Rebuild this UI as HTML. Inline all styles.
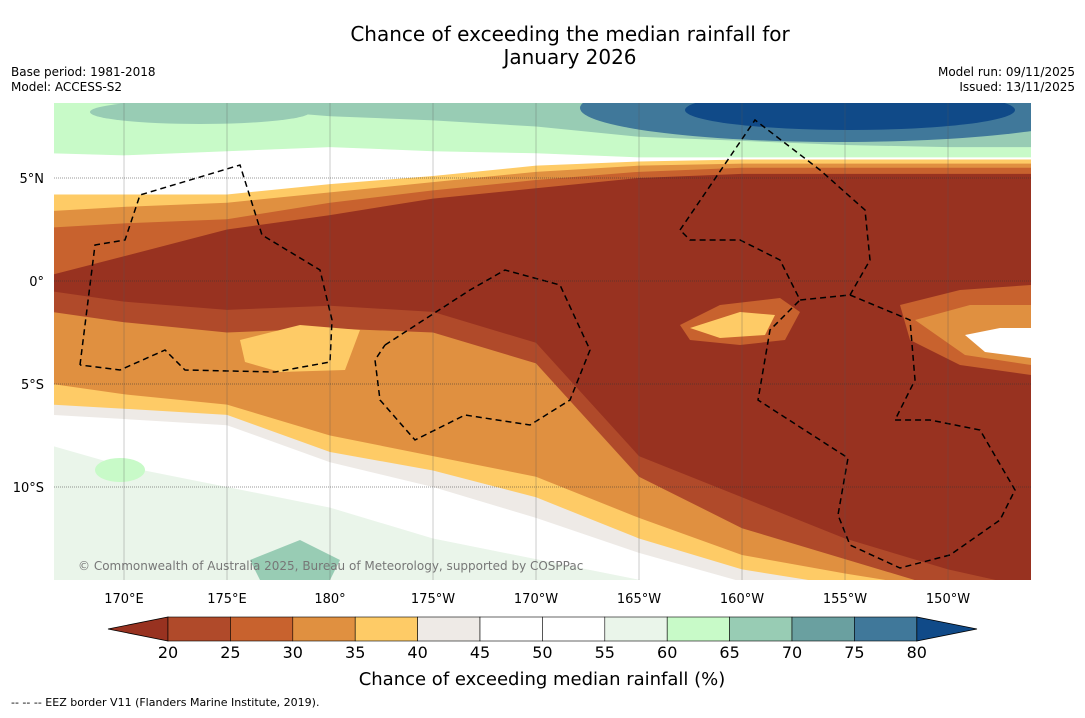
<!DOCTYPE html>
<html><head><meta charset="utf-8"><style>
body{margin:0;background:#fff;font-family:"Liberation Sans","DejaVu Sans",sans-serif;}
svg text{font-family:"DejaVu Sans","Liberation Sans",sans-serif;}
</style></head><body>
<svg id="c" width="1085" height="713" xmlns="http://www.w3.org/2000/svg">
<rect width="1085" height="713" fill="#fff"/>
<text x="570" y="41" text-anchor="middle" font-size="20">Chance of exceeding the median rainfall for</text>
<text x="570" y="64" text-anchor="middle" font-size="20">January 2026</text>
<text x="11" y="76" font-size="12">Base period: 1981-2018</text>
<text x="11" y="91" font-size="12">Model: ACCESS-S2</text>
<text x="1075" y="76" font-size="12" text-anchor="end">Model run: 09/11/2025</text>
<text x="1075" y="91" font-size="12" text-anchor="end">Issued: 13/11/2025</text>
<defs><clipPath id="mc"><rect x="54" y="103" width="977" height="477"/></clipPath></defs>
<g id="map" clip-path="url(#mc)"></g>
<g id="axes"></g>
<g id="cbar"></g>
<text x="542" y="685" text-anchor="middle" font-size="18">Chance of exceeding median rainfall (%)</text>
<text x="11" y="706" font-size="11">--  --  -- EEZ border V11 (Flanders Marine Institute, 2019).</text>
</svg>
<script>
const lons=[166.5,170,175,180,185,190,195,200,205,210,214.5];
const bandColors=["#98ccb4","#c8fac8","#ffffff","#fecb66","#e09040","#c8622e","#983220","#b04a2a","#e09040","#fecb66","#eeeae6","#ffffff","#eaf5ea"];
const bounds=[
[9,9,9,9,9,9,9,9,9,9,9],
[8.7,8.6,8.4,8,7.8,7.5,7,6.8,6.6,6.5,6.5],
[6.2,6.1,6.3,6.5,6.3,6.2,6.0,6.0,6.0,6.0,6.0],
[4.2,4.2,4.2,4.7,5.1,5.6,5.8,5.9,5.9,5.9,5.9],
[3.4,3.6,3.8,4.3,4.8,5.3,5.6,5.7,5.7,5.7,5.7],
[2.6,2.8,3.0,3.8,4.4,4.9,5.3,5.5,5.5,5.5,5.5],
[0.3,1.2,2.5,3.2,4.0,4.5,5.0,5.2,5.2,5.2,5.2],
[-0.5,-1.0,-1.4,-1.2,-1.5,-3,-8.5,-10.5,-12.5,-14,-15],
[-1.5,-2,-2.5,-2.3,-2.5,-4,-9.5,-12,-13.5,-15,-15.5],
[-5,-5.5,-6,-7.5,-8.5,-9.5,-11.5,-13.3,-14.2,-15,-15.5],
[-6,-6.2,-6.5,-8.3,-9.2,-10.5,-12.5,-14,-14.8,-15.5,-15.5],
[-6.5,-6.7,-7,-8.8,-10,-11.5,-13.2,-14.6,-15.5,-15.5,-15.5],
[-8,-9,-10,-11,-12.5,-13.5,-14.5,-15.5,-15.5,-15.5,-15.5]];
const cbTicks=[20,25,30,35,40,45,50,55,60,65,70,75,80];
const cbColors=["#b04a2a","#c8622e","#e09040","#fecb66","#eeeae6","#ffffff","#ffffff","#eaf5ea","#c8fac8","#98ccb4","#6aa0a0","#40789a"];
const latTicks=[5,0,-5,-10];
const latLabels=["5°N","0°","5°S","10°S"];
const lonTicks=[170,175,180,185,190,195,200,205,210];
const lonLabels=["170°E","175°E","180°","175°W","170°W","165°W","160°W","155°W","150°W"];
const NS="http://www.w3.org/2000/svg";
const X=l=>124+(l-170)*20.6, Y=t=>281-t*20.6;
function mk(tag,at,par){const e=document.createElementNS(NS,tag);for(const k in at)e.setAttribute(k,at[k]);par.appendChild(e);return e;}
const map=document.getElementById('map');
bounds.forEach((b,k)=>{
  let pts=lons.map((l,i)=>X(l)+','+Y(b[i])).join(' ');
  pts+=' '+X(lons[lons.length-1])+','+Y(-16)+' '+X(lons[0])+','+Y(-16);
  const p=mk('polygon',{points:pts,fill:bandColors[k]},map);
  
  
});
const extras=[
 ['ellipse',{cx:840,cy:108,rx:260,ry:34,fill:'#40789a'}],
 ['ellipse',{cx:850,cy:110,rx:165,ry:20,fill:'#104a88'}],
 ['ellipse',{cx:200,cy:112,rx:110,ry:12,fill:'#98ccb4'}],
 ['polygon',{points:'680,325 720,305 780,298 800,312 785,340 740,345 690,340',fill:'#c8622e'}],
 ['polygon',{points:'690,328 740,312 775,315 765,335 720,338',fill:'#fecb66'}],
 ['polygon',{points:'900,305 960,290 1031,285 1031,375 960,365 910,340',fill:'#c8622e'}],
 ['polygon',{points:'915,320 970,305 1031,305 1031,365 965,355',fill:'#e09040'}],
 ['polygon',{points:'965,335 1000,328 1031,328 1031,358 985,352',fill:'#ffffff'}],
 ['polygon',{points:'240,340 300,325 360,330 345,370 280,372 245,362',fill:'#fecb66'}],
 ['polygon',{points:'250,560 300,540 340,560 330,580 260,580',fill:'#98ccb4'}],
 ['ellipse',{cx:120,cy:470,rx:25,ry:12,fill:'#c8fac8'}]
];
extras.forEach((e,i)=>{const el=mk(e[0],e[1],map);

});
const eez=["80,365 95,245 125,240 140,195 240,165 262,235 320,270 332,320 330,362 275,372 185,370 165,350 120,370 80,365",
"385,345 470,290 505,270 560,285 590,350 570,400 530,425 465,415 415,440 380,400 375,360 385,345",
"680,230 755,120 820,170 865,210 870,260 850,295 800,300 780,260 740,240 690,240 680,230",
"850,295 910,320 915,380 895,420 930,420 980,430 1015,490 1000,520 950,555 900,568 850,545 838,515 848,458 758,400 770,330 800,300"];
eez.forEach((p,i)=>{const el=mk('polyline',{points:p,fill:'none',stroke:'#000','stroke-width':1.5,'stroke-dasharray':'6,4'},map);

});
const cp=mk('text',{x:78,y:570,'font-size':12,fill:'#777'},map);cp.textContent='© Commonwealth of Australia 2025, Bureau of Meteorology, supported by COSPPac';


const ax=document.getElementById('axes');
lonTicks.forEach((l,i)=>{mk('line',{x1:X(l),x2:X(l),y1:103,y2:580,stroke:'#555','stroke-width':0.5,'stroke-opacity':0.6},ax);
 const t=mk('text',{x:X(l),y:603,'font-size':13,'text-anchor':'middle'},ax);t.textContent=lonLabels[i];
 
 });
latTicks.forEach((l,i)=>{mk('line',{x1:54,x2:1031,y1:Y(l),y2:Y(l),stroke:'#333','stroke-width':0.6,'stroke-dasharray':'1,1'},ax);
 const t=mk('text',{x:44,y:Y(l)+5,'font-size':13,'text-anchor':'end'},ax);t.textContent=latLabels[i];
 
 });
const cb=document.getElementById('cbar');
const cx0=168,cw=62.4,cy=617,ch=24;
mk('polygon',{points:`${cx0},${cy} ${cx0},${cy+ch} 108,${cy+ch/2}`,fill:'#983220',stroke:'#000','stroke-width':0.8},cb);
cbColors.forEach((c,i)=>{const r=mk('rect',{x:cx0+i*cw,y:cy,width:cw,height:ch,fill:c,stroke:'#000','stroke-width':0.6},cb);
 
 });
const xe=cx0+cbColors.length*cw;
mk('polygon',{points:`${xe},${cy} ${xe},${cy+ch} 977,${cy+ch/2}`,fill:'#104a88',stroke:'#000','stroke-width':0.8},cb);
cbTicks.forEach((v,i)=>{const t=mk('text',{x:cx0+i*cw,y:658,'font-size':16,'text-anchor':'middle'},cb);t.textContent=v;
 
 });
</script>
</body></html>
